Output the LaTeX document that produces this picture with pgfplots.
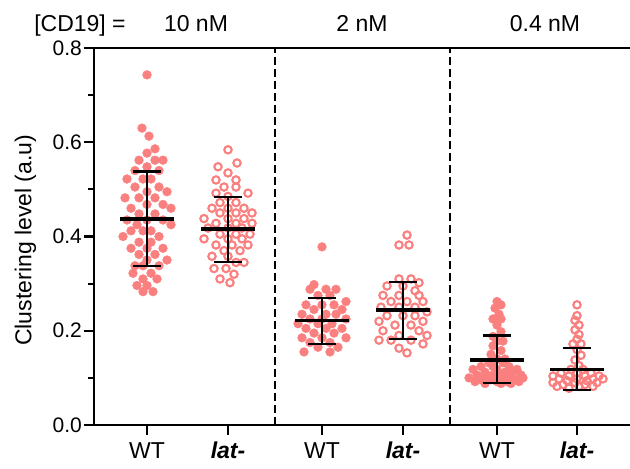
\documentclass[border=0pt]{standalone}
\usepackage{fontspec}
\setmainfont{Liberation Sans}
\usepackage{pgfplots}
\usepackage{pgfplotstable}
\pgfplotsset{compat=1.18}
\definecolor{dot}{RGB}{250,128,128}

% 10 nM, WT (filled)
\pgfplotstableread{
x y
147 0.743
142 0.630
149 0.613
155 0.586
147 0.577
139 0.562
155 0.562
163 0.562
147 0.548
135 0.540
159 0.540
143 0.522
151 0.522
127 0.522
135 0.505
159 0.505
147 0.495
167 0.495
139 0.482
155 0.482
125 0.482
147 0.468
163 0.468
131 0.460
171 0.460
139 0.448
155 0.448
147 0.435
127 0.435
163 0.435
137 0.425
171 0.425
143 0.412
151 0.412
131 0.412
159 0.400
123 0.400
139 0.388
151 0.388
163 0.375
131 0.375
147 0.375
155 0.362
139 0.362
147 0.350
167 0.350
135 0.338
159 0.338
143 0.338
151 0.322
133 0.322
143 0.310
157 0.310
147 0.296
137 0.296
153 0.283
143 0.283
}\wtA

% 10 nM, lat- (open)
\pgfplotstableread{
x y
228 0.584
237 0.556
218 0.548
228 0.535
236 0.520
216 0.520
224 0.505
236 0.505
216 0.492
248 0.492
228 0.485
220 0.472
236 0.472
212 0.460
228 0.460
244 0.460
220 0.450
236 0.450
252 0.450
204 0.438
228 0.438
244 0.438
216 0.428
236 0.428
252 0.428
208 0.418
228 0.418
242 0.418
220 0.405
236 0.405
250 0.405
204 0.395
228 0.395
242 0.395
216 0.382
232 0.382
248 0.382
224 0.370
240 0.370
212 0.358
228 0.358
236 0.345
244 0.345
214 0.332
226 0.332
234 0.320
220 0.310
230 0.302
}\latA

% 2 nM, WT (filled)
\pgfplotstableread{
x y
322 0.378
314 0.298
310 0.288
326 0.288
336 0.288
318 0.275
330 0.275
346 0.262
306 0.255
322 0.255
334 0.255
314 0.245
342 0.245
302 0.235
326 0.235
336 0.235
310 0.225
322 0.225
346 0.225
298 0.215
318 0.215
332 0.215
306 0.205
326 0.205
342 0.205
314 0.195
334 0.195
302 0.185
322 0.185
346 0.185
310 0.175
330 0.175
318 0.165
338 0.165
304 0.155
330 0.155
}\wtB

% 2 nM, lat- (open)
\pgfplotstableread{
x y
407 0.403
399 0.382
409 0.382
399 0.310
411 0.310
419 0.302
387 0.295
403 0.295
415 0.285
383 0.275
399 0.275
419 0.275
391 0.262
407 0.262
423 0.262
381 0.250
399 0.250
415 0.250
427 0.240
387 0.232
403 0.232
415 0.232
379 0.220
423 0.220
395 0.212
411 0.212
383 0.200
419 0.200
399 0.190
427 0.190
379 0.180
391 0.180
411 0.180
423 0.172
399 0.163
407 0.153
}\latB

% 0.4 nM, WT (filled)
\pgfplotstableread{
x y
497 0.262
501 0.255
495 0.248
499 0.235
493 0.225
501 0.225
497 0.212
501 0.198
493 0.188
497 0.178
503 0.178
493 0.168
501 0.158
491 0.150
497 0.140
505 0.140
489 0.132
503 0.132
493 0.124
509 0.124
481 0.124
473 0.118
497 0.118
517 0.118
485 0.112
505 0.112
513 0.112
477 0.106
493 0.106
501 0.106
521 0.106
469 0.100
485 0.100
509 0.100
523 0.100
481 0.096
491 0.096
503 0.096
515 0.096
475 0.092
497 0.092
507 0.092
519 0.092
485 0.088
501 0.088
511 0.088
}\wtC

% 0.4 nM, lat- (open)
\pgfplotstableread{
x y
577 0.255
577 0.232
575 0.222
579 0.212
575 0.202
579 0.192
577 0.182
573 0.172
581 0.172
577 0.160
581 0.148
575 0.138
579 0.126
571 0.118
583 0.118
561 0.110
577 0.110
591 0.110
553 0.104
569 0.104
585 0.104
599 0.104
559 0.098
577 0.098
593 0.098
603 0.098
567 0.094
587 0.094
553 0.090
575 0.090
597 0.090
563 0.086
585 0.086
557 0.082
579 0.082
593 0.082
569 0.078
}\latC

\pgfplotsset{
  sdbar/.style={black, line width=2.4pt, line cap=butt, forget plot},
  meanbar/.style={black, line width=3.2pt, forget plot},
  frame/.style={
    at={(94pt,44pt)}, anchor=south west,
    width=536pt, height=377pt, scale only axis,
    xmin=94, xmax=630, ymin=0, ymax=0.8, clip=false},
}

\begin{document}
\begin{tikzpicture}
\begin{axis}[
  frame,
  axis x line=box, axis y line=left,
  axis line style={-, line width=2.2pt, black},
  xtick pos=left,
  tick align=outside,
  major tick length=10pt, minor tick length=6pt,
  every tick/.style={black, line width=2.2pt},
  xtick={147,228,322,403,497,577},
  xticklabels={WT,\textbf{\textit{lat-}},WT,\textbf{\textit{lat-}},WT,\textbf{\textit{lat-}}},
  ytick={0,0.2,0.4,0.6,0.8},
  minor ytick={0.1,0.3,0.5,0.7},
  /pgf/number format/assume math mode=true,
  yticklabel style={/pgf/number format/fixed, /pgf/number format/fixed zerofill, /pgf/number format/precision=1, font=\fontsize{21pt}{25pt}\selectfont, inner sep=2pt},
  xticklabel style={font=\fontsize{23pt}{27pt}\selectfont, inner sep=7pt},
  ylabel={Clustering level (a.u)},
  ylabel style={at={(axis description cs:-0.128,0.49)}, anchor=center, font=\fontsize{23pt}{27pt}\selectfont},
]
\addplot[black, line width=2.2pt, dash pattern=on 8pt off 4pt] coordinates {(275,0) (275,0.8)};
\addplot[black, line width=2.2pt, dash pattern=on 8pt off 4pt] coordinates {(450,0) (450,0.8)};

\addplot[only marks, mark=*, mark size=4.4pt, dot, mark options={fill=dot, draw=dot}] table[x=x,y=y] {\wtA};
\addplot[only marks, mark=*, mark size=4.4pt, dot, mark options={fill=dot, draw=dot}] table[x=x,y=y] {\wtB};
\addplot[only marks, mark=*, mark size=4.4pt, dot, mark options={fill=dot, draw=dot}] table[x=x,y=y] {\wtC};
\addplot[only marks, mark=o, mark size=3.7pt, dot, mark options={draw=dot, fill=white, line width=2.1pt}] table[x=x,y=y] {\latA};
\addplot[only marks, mark=o, mark size=3.7pt, dot, mark options={draw=dot, fill=white, line width=2.1pt}] table[x=x,y=y] {\latB};
\addplot[only marks, mark=o, mark size=3.7pt, dot, mark options={draw=dot, fill=white, line width=2.1pt}] table[x=x,y=y] {\latC};
\end{axis}

% overlay axis so the mean and SD lines lie above the dots
\begin{axis}[frame, hide axis]
% 10 nM WT (0.437, 0.337-0.538)
\addplot[sdbar] coordinates {(147,0.337) (147,0.538)};
\addplot[sdbar] coordinates {(133,0.337) (161,0.337)};
\addplot[sdbar] coordinates {(133,0.538) (161,0.538)};
\addplot[meanbar] coordinates {(120,0.437) (174,0.437)};
% 10 nM lat- (0.416, 0.346-0.484)
\addplot[sdbar] coordinates {(228,0.346) (228,0.484)};
\addplot[sdbar] coordinates {(214,0.346) (242,0.346)};
\addplot[sdbar] coordinates {(214,0.484) (242,0.484)};
\addplot[meanbar] coordinates {(201,0.416) (255,0.416)};
% 2 nM WT (0.221, 0.172-0.270)
\addplot[sdbar] coordinates {(322,0.172) (322,0.270)};
\addplot[sdbar] coordinates {(308,0.172) (336,0.172)};
\addplot[sdbar] coordinates {(308,0.270) (336,0.270)};
\addplot[meanbar] coordinates {(295,0.221) (349,0.221)};
% 2 nM lat- (0.244, 0.182-0.304)
\addplot[sdbar] coordinates {(403,0.182) (403,0.304)};
\addplot[sdbar] coordinates {(389,0.182) (417,0.182)};
\addplot[sdbar] coordinates {(389,0.304) (417,0.304)};
\addplot[meanbar] coordinates {(376,0.244) (430,0.244)};
% 0.4 nM WT (0.138, 0.089-0.190)
\addplot[sdbar] coordinates {(497,0.089) (497,0.190)};
\addplot[sdbar] coordinates {(483,0.089) (511,0.089)};
\addplot[sdbar] coordinates {(483,0.190) (511,0.190)};
\addplot[meanbar] coordinates {(470,0.138) (524,0.138)};
% 0.4 nM lat- (0.118, 0.074-0.163)
\addplot[sdbar] coordinates {(577,0.074) (577,0.163)};
\addplot[sdbar] coordinates {(563,0.074) (591,0.074)};
\addplot[sdbar] coordinates {(563,0.163) (591,0.163)};
\addplot[meanbar] coordinates {(550,0.118) (604,0.118)};
\end{axis}
\node[anchor=base, font=\fontsize{23pt}{27pt}\selectfont] at (80pt,437pt) {[CD19] =};
\node[anchor=base, font=\fontsize{23pt}{27pt}\selectfont] at (196pt,437pt) {10 nM};
\node[anchor=base, font=\fontsize{23pt}{27pt}\selectfont] at (362pt,437pt) {2 nM};
\node[anchor=base, font=\fontsize{23pt}{27pt}\selectfont] at (545pt,437pt) {0.4 nM};
\pgfresetboundingbox
\path (0,0) rectangle (630pt,469pt);
\end{tikzpicture}
\end{document}
